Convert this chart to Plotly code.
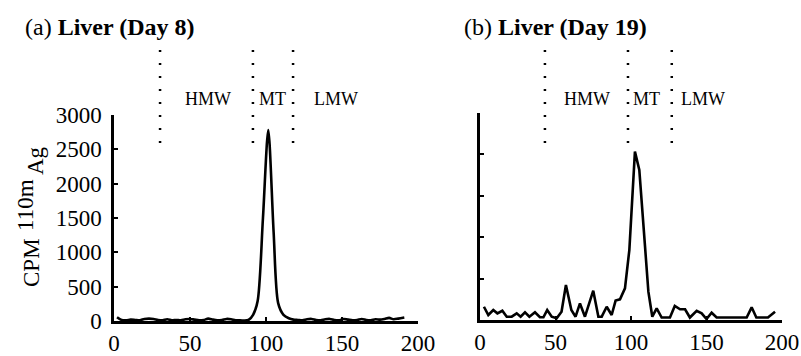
import plotly.graph_objects as go

# ---- data ----
day8_x = [2, 5, 8, 11, 14, 17, 20, 23, 26, 29, 32, 35, 38, 41, 44, 47, 50, 53, 56, 59,
          62, 65, 68, 71, 74, 77, 80, 83, 86, 88.5, 91.5, 94.5, 98, 101.5, 105, 108,
          111.5, 115, 118, 121, 124, 127, 130, 133, 136, 139, 142, 145, 148, 151, 154,
          157, 160, 163, 166, 169, 172, 175, 178, 181, 184, 187, 191]
day8_y = [55, 15, 10, 20, 15, 10, 30, 35, 30, 15, 10, 25, 10, 15, 10, 25, 30, 20, 10, 15,
          35, 20, 10, 15, 30, 25, 10, 10, 5, 15, 90, 290, 1500, 2780, 1300, 260,
          90, 40, 20, 15, 10, 25, 30, 15, 10, 25, 30, 15, 10, 30, 20, 10, 15, 30, 15,
          10, 25, 20, 30, 45, 25, 35, 50]

day19_x = [2.6, 5.5, 8.8, 11.5, 14.8, 17.7, 21, 24.3, 26.9, 29.8, 32.7, 36.4, 39.7, 42,
           44.5, 47.5, 50.8, 54, 56.9, 60.5, 63.3, 66.2, 69.5, 72.3, 75, 78.4, 80.6, 83.9,
           87.2, 89.8, 92.7, 96, 98.9, 102.6, 105.5, 109.3, 111.5, 114.1, 117, 120.3, 123,
           125.8, 129, 132.5, 135.8, 139, 143.5, 146.8, 150, 153.4, 156.7, 160, 166.7,
           173.3, 176.6, 179.9, 183, 186.7, 190.7, 195.4]
day19_y = [160, 60, 120, 80, 112, 40, 40, 80, 40, 93, 40, 93, 33, 33,
           120, 40, 20, 100, 423, 120, 40, 200, 40, 190, 354, 40, 40, 160,
           60, 235, 250, 383, 845, 2033, 1812, 885, 342, 40, 141, 30, 30,
           30, 169, 130, 130, 30, 112, 80, 12, 88, 30, 30, 30,
           30, 30, 153, 30, 30, 30, 100]

x_ticks = [0, 50, 100, 150, 200]
y_ticks_a = [0, 500, 1000, 1500, 2000, 2500, 3000]
y_ticks_b = [0, 500, 1000, 1500, 2000, 2500]

bounds_a = [30.3, 91.4, 117.8]
bounds_b = [43, 98, 127]
region_labels = ["HMW", "MT", "LMW"]
region_x_a = [62, 104, 146]
region_x_b = [71, 110, 148]

FONT = "Liberation Serif, Times New Roman, serif"

fig = go.Figure()
fig.add_trace(go.Scatter(x=day8_x, y=day8_y, mode="lines", xaxis="x", yaxis="y",
                         line=dict(color="black", width=2.6, shape="spline", smoothing=0.8),
                         showlegend=False, hoverinfo="skip"))
fig.add_trace(go.Scatter(x=day19_x, y=day19_y, mode="lines", xaxis="x2", yaxis="y2",
                         line=dict(color="black", width=2.6),
                         showlegend=False, hoverinfo="skip"))

axis_common = dict(showline=True, linecolor="black", linewidth=2.5, showgrid=False,
                   zeroline=False, ticks="inside", ticklen=4, tickwidth=2, tickcolor="black",
                   automargin=False,
                   tickfont=dict(family=FONT, size=23, color="black"))

fig.update_layout(
    width=801, height=356,
    margin=dict(l=0, r=0, t=0, b=0, autoexpand=False),
    paper_bgcolor="white", plot_bgcolor="white",
    xaxis=dict(domain=[114/801, 418/801], range=[0, 200], tickvals=x_ticks,
               anchor="y", **axis_common),
    yaxis=dict(domain=[35/356, 241/356], range=[0, 3000], tickvals=y_ticks_a,
               anchor="x", ticklabelstandoff=5, **axis_common),
    xaxis2=dict(domain=[480/801, 782/801], range=[0, 200], tickvals=x_ticks,
                anchor="y2", **axis_common),
    yaxis2=dict(domain=[36/356, 243/356], range=[0, 2500], tickvals=y_ticks_b,
                anchor="x2", showticklabels=False, **axis_common),
)

shapes = []
for b in bounds_a:
    shapes.append(dict(type="line", xref="x", yref="paper", x0=b, x1=b,
                       y0=(356-143)/356, y1=(356-47)/356,
                       line=dict(color="black", width=2.5, dash="2px,11px")))
for b in bounds_b:
    shapes.append(dict(type="line", xref="x2", yref="paper", x0=b, x1=b,
                       y0=(356-143)/356, y1=(356-47)/356,
                       line=dict(color="black", width=2.5, dash="2px,11px")))
fig.update_layout(shapes=shapes)

ann = []
for lab, xv in zip(region_labels, region_x_a):
    ann.append(dict(text=lab, x=xv, xref="x", y=(356-99)/356, yref="paper",
                    showarrow=False, font=dict(family=FONT, size=18, color="black"),
                    xanchor="center", yanchor="middle"))
for lab, xv in zip(region_labels, region_x_b):
    ann.append(dict(text=lab, x=xv, xref="x2", y=(356-99)/356, yref="paper",
                    showarrow=False, font=dict(family=FONT, size=18, color="black"),
                    xanchor="center", yanchor="middle"))
ann.append(dict(text="(a) <b>Liver (Day 8)</b>", x=23/801, y=(356-27)/356,
                xref="paper", yref="paper", showarrow=False, xanchor="left",
                yanchor="middle", font=dict(family=FONT, size=24, color="black")))
ann.append(dict(text="(b) <b>Liver (Day 19)</b>", x=462/801, y=(356-27)/356,
                xref="paper", yref="paper", showarrow=False, xanchor="left",
                yanchor="middle", font=dict(family=FONT, size=24, color="black")))
# y-axis title pieces: "CPM", raised "110m", lowered "Ag"
ytitle = [("CPM", 31, 262), ("110m", 25, 205), ("Ag", 35, 161)]
for txt, px, py in ytitle:
    ann.append(dict(text=txt, x=px/801, y=(356-py)/356, xref="paper", yref="paper",
                    showarrow=False, textangle=-90, xanchor="center", yanchor="middle",
                    font=dict(family=FONT, size=23, color="black")))
fig.update_layout(annotations=ann)

fig.write_html("out.html")
